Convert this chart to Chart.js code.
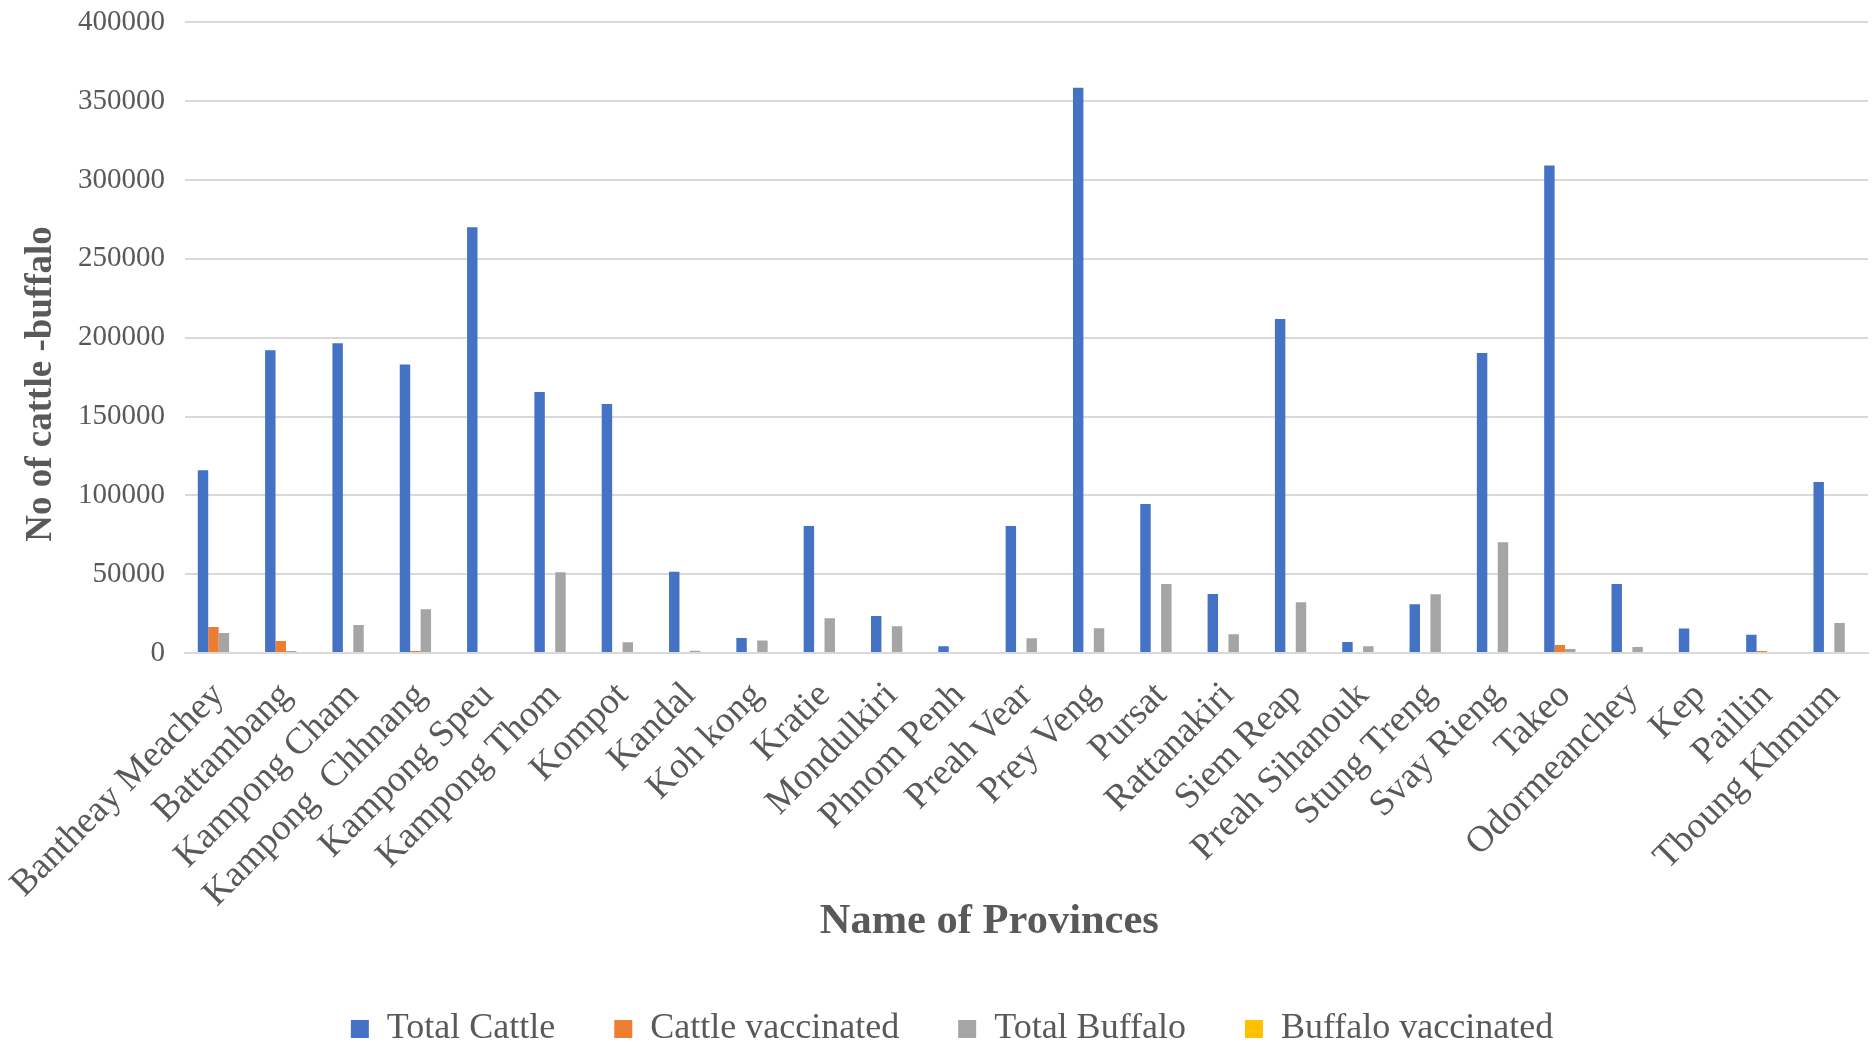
<!DOCTYPE html>
<html>
<head>
<meta charset="utf-8">
<title>Cattle and buffalo by province</title>
<script src="https://cdn.jsdelivr.net/npm/chart.js@4.4.1/dist/chart.umd.min.js"></script>
<style>
    html, body { margin: 0; padding: 0; background: #fff; }
    #wrap { width: 1875px; height: 1048px; position: relative; }
</style>
</head>
<body>
<div id="wrap"><canvas id="chart"></canvas></div>
<script>
// --- Data ---
const provinces = [
    'Bantheay Meachey', 'Battambang', 'Kampong Cham', 'Kampong  Chhnang', 'Kampong Speu',
    'Kampong Thom', 'Kompot', 'Kandal', 'Koh kong', 'Kratie', 'Mondulkiri', 'Phnom Penh',
    'Preah Vear', 'Prey Veng', 'Pursat', 'Rattanakiri', 'Siem Reap', 'Preah Sihanouk',
    'Stung Treng', 'Svay Rieng', 'Takeo', 'Odormeanchey', 'Kep', 'Paillin', 'Tboung Khmum'
];

const totalCattle = [
    116000, 192000, 196500, 183000, 270000, 165500, 158000, 51500, 9500, 80500, 23500, 4300,
    80500, 358500, 94500, 37500, 211800, 7000, 31000, 190300, 309300, 43800, 15500, 11500, 108500
];

const cattleVaccinated = [
    16500, 7600, 0, 1300, 0, 0, 0, 0, 0, 0, 0, 0,
    0, 0, 0, 0, 0, 0, 0, 0, 5100, 0, 0, 1300, 0
];

const totalBuffalo = [
    12700, 1300, 17700, 27800, 0, 51300, 6800, 1500, 8000, 22000, 17000, 0,
    9300, 15700, 43700, 11900, 32200, 4300, 37300, 70300, 2500, 3800, 0, 0, 19000
];

const buffaloVaccinated = [
    0, 0, 0, 0, 0, 0, 0, 0, 0, 0, 0, 0,
    0, 0, 0, 0, 0, 0, 0, 0, 0, 0, 0, 0, 0
];

const yTicks = [0, 50000, 100000, 150000, 200000, 250000, 300000, 350000, 400000];

// --- Styles ---
const SERIF = "'Liberation Serif', 'Times New Roman', serif";
const TEXT = '#595959';
const GRID = '#D9D9D9';

Chart.defaults.font.family = SERIF;
Chart.defaults.color = TEXT;

const mkSet = (label, data, color) => ({
    label,
    data,
    backgroundColor: color,
    borderWidth: 0,
    categoryPercentage: 0.62,
    barPercentage: 1.0
});

new Chart(document.getElementById('chart'), {
    type: 'bar',
    data: {
        labels: provinces,
        datasets: [
            mkSet('Total Cattle', totalCattle, '#4472C4'),
            mkSet('Cattle vaccinated', cattleVaccinated, '#ED7D31'),
            mkSet('Total Buffalo', totalBuffalo, '#A5A5A5'),
            mkSet('Buffalo vaccinated', buffaloVaccinated, '#FFC000')
        ]
    },
    options: {
        responsive: true,
        maintainAspectRatio: false,
        animation: false,
        // left padding only nudges the centred legend to the right
        layout: { padding: { left: 36, right: 7, top: 0, bottom: -9 } },
        plugins: {
            tooltip: { enabled: false },
            legend: {
                position: 'bottom',
                labels: {
                    font: { family: SERIF, size: 36 },
                    color: TEXT,
                    boxWidth: 18,
                    boxHeight: 18,
                    padding: 59
                }
            }
        },
        scales: {
            x: {
                grid: { display: false, drawTicks: false },
                border: { display: true, color: GRID, width: 2 },
                ticks: {
                    autoSkip: false,
                    maxRotation: 45,
                    minRotation: 45,
                    padding: 21,
                    font: { size: 37 },
                    color: TEXT
                },
                title: {
                    display: true,
                    text: 'Name of Provinces       ',
                    font: { size: 42.5, weight: 'bold' },
                    color: TEXT,
                    padding: { top: 0, bottom: 4 }
                },
                // fixed height, and no extra side padding for the slanted labels
                afterFit: (scale) => {
                    scale.height = 299;
                    scale.paddingLeft = 0;
                    scale.paddingRight = 0;
                }
            },
            y: {
                min: 0,
                max: 400000,
                afterBuildTicks: (scale) => { scale.ticks = yTicks.map(v => ({ value: v })); },
                grid: { color: GRID, lineWidth: 2, drawTicks: true, tickLength: 15, tickColor: 'rgba(0,0,0,0)' },
                border: { display: false },
                ticks: {
                    padding: 5,
                    font: { size: 29 },
                    color: TEXT,
                    callback: (v) => String(v)
                },
                title: {
                    display: true,
                    text: 'No of cattle -buffalo          ',
                    font: { size: 37, weight: 'bold' },
                    color: TEXT,
                    padding: { top: -17, bottom: 0 }
                },
                afterFit: (scale) => { scale.width = 149; }
            }
        }
    }
});
</script>
</body>
</html>
